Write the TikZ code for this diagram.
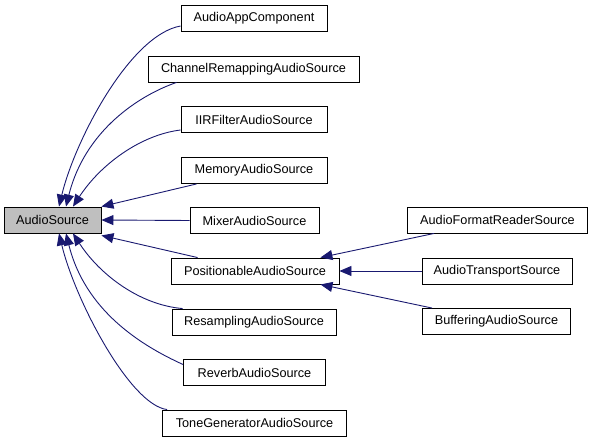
\documentclass[tikz,border=0pt]{standalone}
\usepackage{fontspec}
\setmainfont{Liberation Sans}
\usetikzlibrary{arrows.meta}
\definecolor{edgeblue}{HTML}{191970}
\definecolor{basegray}{HTML}{BFBFBF}
\begin{document}
\begin{tikzpicture}[x=1pt,y=-1pt,
  cls/.style={draw=black, fill=white, line width=0.9pt, minimum height=26pt, inner sep=0pt, font=\fontsize{12.7}{14}\selectfont},
  base/.style={cls, fill=basegray},
  inh/.style={draw=edgeblue, line width=0.9pt, -{Triangle[length=12pt,width=10pt]}}]
\useasboundingbox (0,0) rectangle (592,443);
\node[base, minimum width=97pt] (as) at (52.5,220) {AudioSource};
\node[cls, minimum width=146pt] (aac) at (254,18) {AudioAppComponent};
\node[cls, minimum width=211pt] (crs) at (253.5,69) {ChannelRemappingAudioSource};
\node[cls, minimum width=146pt] (iir) at (254,119.5) {IIRFilterAudioSource};
\node[cls, minimum width=146pt] (mem) at (254,170.5) {MemoryAudioSource};
\node[cls, minimum width=129pt] (mix) at (254.5,220.5) {MixerAudioSource};
\node[cls, minimum width=168pt] (pos) at (255,271) {PositionableAudioSource};
\node[cls, minimum width=164pt] (res) at (254,322) {ResamplingAudioSource};
\node[cls, minimum width=142pt] (rev) at (254.5,372.5) {ReverbAudioSource};
\node[cls, minimum width=184pt] (tone) at (254.5,423) {ToneGeneratorAudioSource};
\node[cls, minimum width=180pt] (afr) at (497.5,220) {AudioFormatReaderSource};
\node[cls, minimum width=150pt] (ats) at (497,271) {AudioTransportSource};
\node[cls, minimum width=148pt] (bas) at (496.5,321.5) {BufferingAudioSource};
% edges to AudioSource
\draw[inh] ([yshift=-8pt]aac.west) .. controls (130,35) and (75,140) .. ([xshift=6.5pt]as.north);
\draw[inh] ([xshift=29pt]crs.south west) .. controls (140,95) and (85,130) .. ([xshift=13.5pt]as.north);
\draw[inh] ([yshift=-10.5pt]iir.west) .. controls (140,135) and (100,165) .. ([xshift=20.5pt]as.north);
\draw[inh] ([xshift=16pt]mem.south west) -- (as.north east);
\draw[inh] (mix.west) -- (as.east);
\draw[inh] ([xshift=27pt]pos.north west) -- ([yshift=-2pt]as.south east);
\draw[inh] ([xshift=11pt]res.north west) .. controls (140,305) and (100,275) .. ([xshift=20.5pt]as.south);
\draw[inh] ([yshift=8pt]rev.west) .. controls (140,345) and (85,310) .. ([xshift=13.5pt]as.south);
\draw[inh] ([xshift=5pt]tone.north west) .. controls (130,405) and (75,300) .. ([xshift=6.5pt]as.south);
% edges to PositionableAudioSource
\draw[inh] ([xshift=27pt]afr.south west) -- ([xshift=-19pt]pos.north east);
\draw[inh] (ats.west) -- (pos.east);
\draw[inh] ([xshift=10pt]bas.north west) -- ([xshift=-19pt]pos.south east);
\end{tikzpicture}
\end{document}
